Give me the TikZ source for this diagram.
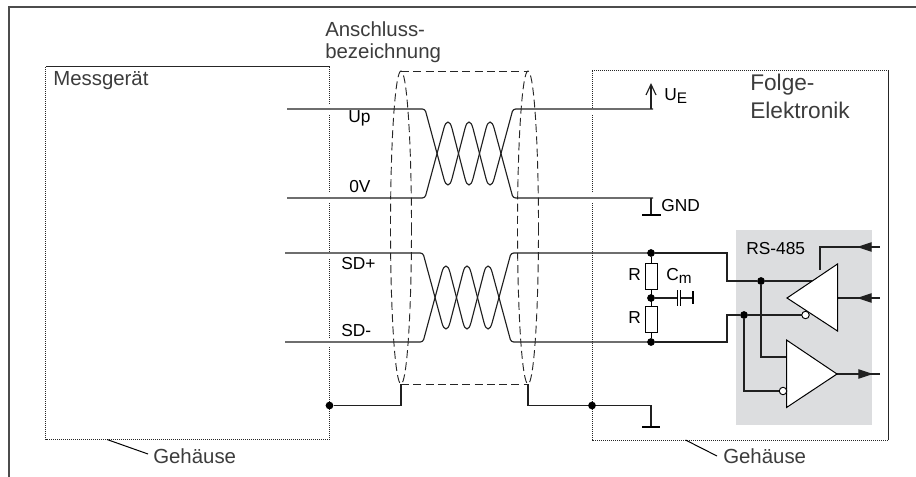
\documentclass[tikz,border=0pt]{standalone}
\usepackage{fontspec}
\setmainfont{Liberation Sans}
\usetikzlibrary{arrows.meta}
\definecolor{txtgray}{HTML}{3C3C3C}
\definecolor{panel}{HTML}{DCDDDF}
\definecolor{wiregray}{HTML}{202020}
\tikzset{
  wire/.style={draw=wiregray,line width=0.85pt},
  frameline/.style={draw=black!70,line width=0.9pt},
  dotbox/.style={draw=black!85,line width=0.75pt,dash pattern=on 0.8pt off 0.7pt},
  shield/.style={draw=black!85,line width=0.7pt,dash pattern=on 6pt off 3.2pt},
  thin part/.style={draw=black,line width=0.75pt},
  joint/.style={circle,fill=black,inner sep=0pt,minimum size=5.8pt},
  bubble/.style={circle,draw=black,fill=white,line width=0.7pt,inner sep=0pt,minimum size=5.6pt},
  bigtext/.style={text=txtgray,font=\fontsize{15.3}{16.5}\selectfont,inner sep=0pt,anchor=west,align=left},
  folgetext/.style={text=txtgray,font=\fontsize{17}{21}\selectfont,inner sep=0pt,anchor=north west,align=left},
  smalltext/.style={text=black,font=\fontsize{13}{15}\selectfont,inner sep=0pt,anchor=west},
  resistor/.style={draw=black,line width=0.75pt,fill=white},
  groundbar/.style={draw=black,line width=1.1pt},
  solid tip/.style={-{Triangle[length=11pt,width=7pt]}}
}
\newcommand{\twistpair}[2]{%
  \begin{scope}[shift={(#1,#2)}]
    \draw[wire] (287,109) [rounded corners=2pt] -- (425,109) [rounded corners=12pt] -- (448,194) -- (469,113) -- (490,194) [rounded corners=2pt] -- (513,109) -- (653,109);
    \draw[wire] (287,198) [rounded corners=2pt] -- (425,198) [rounded corners=12pt] -- (448,113) -- (469,194) -- (490,113) [rounded corners=2pt] -- (513,198) -- (653,198);
  \end{scope}}
\begin{document}
\begin{tikzpicture}[x=0.75pt,y=-0.75pt]
\useasboundingbox (0,0) rectangle (916,477);
% frame
\coordinate (fa) at (9,477); \coordinate (fb) at (9,7); \coordinate (fc) at (916,7);
\draw[frameline] (fa) -- (fb) -- (fc);
% panel
\fill[panel] (736,230) rectangle (872,424.5);
% housings
\draw[dotbox] (45.5,67) rectangle (329.5,439.5);
\draw[dotbox] (592,71) rectangle (888.5,440);
\foreach \x/\a/\b in {329.5/104/114,329.5/193/203,329.5/253/258,329.5/338/347,592/108/114,592/193/203}
  \draw[white,line width=1.6pt] (\x,\a) -- (\x,\b);
% twisted pairs
\twistpair{0}{0}
\twistpair{-2}{144}
\coordinate (ue) at (651,109);
\coordinate (uetip) at (651,83);
\draw[wire,-{Straight Barb[length=8pt,width=7.5pt]}] (ue) -- (uetip);
\coordinate (gnd) at (651,198);
\coordinate (gndb) at (651,215);
\draw[wire] (gnd) -- (gndb);
\draw[groundbar] (642,215) -- (660.5,215);
% shield
\draw[shield] (401,227.5) ellipse [x radius=10.5,y radius=156.5];
\draw[shield] (528,227.5) ellipse [x radius=10.5,y radius=156.5];
\coordinate (stl) at (401,71); \coordinate (str) at (528,71);
\coordinate (sbl) at (401,384); \coordinate (sbr) at (528,384);
\draw[shield] (stl) -- (str);
\draw[shield] (sbl) -- (sbr);
% shield connections
\node[joint] (jl) at (329.5,405.5) {};
\node[joint] (jr) at (592,405.5) {};
\coordinate (gr) at (651,405.5);
\coordinate (grb) at (651,427);
\draw[wire] (sbl) -- (401,405.5) -- (jl);
\draw[wire] (sbr) -- (528,405.5) -- (jr) -- (gr) -- (grb);
\draw[groundbar] (642,427) -- (660,427);
% terminating network
\node[joint] (j1) at (651,253) {};
\node[joint] (j2) at (651,298) {};
\node[joint] (j3) at (651,342) {};
\draw[thin part] (j1) -- (j3);
\draw[resistor] (645,263.5) rectangle (657.5,289);
\draw[resistor] (645,306) rectangle (657.5,332);
% capacitor
\coordinate (c1) at (677,298); \coordinate (c2) at (680.5,298); \coordinate (c3) at (693,298);
\draw[wire] (j2) -- (c1);
\draw[wire] (c2) -- (c3);
\draw[thin part] (677,290) -- (677,306);
\draw[thin part] (680.5,290) -- (680.5,306);
\draw[groundbar] (693,291) -- (693,304);
% driver triangles
\coordinate (t1a) at (787,298); \coordinate (t1b) at (837.5,264); \coordinate (t1c) at (837.5,331);
\coordinate (t2a) at (786.5,340); \coordinate (t2b) at (786.5,407.5); \coordinate (t2c) at (837,374);
\node[joint] (j4) at (761,281) {};
\node[joint] (j5) at (744,315) {};
\draw[wire] (j1) -- (727,253) -- (727,281) -- (j4) -- (812,281);
\draw[wire] (j3) -- (727,342) -- (727,315) -- (j5) -- (802,315);
\draw[wire] (j4) -- (761,357) -- (786.5,357);
\draw[wire] (j5) -- (744,391) -- (780,391);
\draw[wire] (t1c |- t1a) -- (880,298);
\draw[wire] (820,270) -- (820,247) -- (880,247);
\draw[wire] (t2c) -- (880,374);
\draw[thin part,fill=white] (t1a) -- (t1b) -- (t1c) -- cycle;
\draw[thin part,fill=white] (t2a) -- (t2b) -- (t2c) -- cycle;
\node[bubble] (b1) at (805.5,315) {};
\node[bubble] (b2) at (783,391) {};
% arrowheads
\coordinate (ia) at (872,247); \coordinate (ib) at (857,247);
\coordinate (ic) at (872,298); \coordinate (id) at (857,298);
\coordinate (ie) at (858,374); \coordinate (if) at (873,374);
\draw[wire,solid tip] (ia) -- (ib);
\draw[wire,solid tip] (ic) -- (id);
\draw[wire,solid tip] (ie) -- (if);
% texts
\node[bigtext] (tm) at (53,81) {Messgerät};
\node[bigtext,anchor=north west] (ta) at (325,21) {Anschluss-\\bezeichnung};
\node[folgetext] (tf) at (750,74) {Folge-\\Elektronik};
\node[bigtext] (g1) at (153,456) {Gehäuse};
\node[bigtext] (g2) at (723,456) {Gehäuse};
\coordinate (l1) at (107,439.5); \coordinate (l1b) at (148,454);
\coordinate (l2) at (685.5,440); \coordinate (l2b) at (717,456);
\draw[thin part] (l1) -- (l1b);
\draw[thin part] (l2) -- (l2b);
\node[smalltext] at (348,118) {Up};
\node[smalltext] at (349,187) {0V};
\node[smalltext] at (341,264) {SD+};
\node[smalltext] at (341,331) {SD-};
\node[smalltext] at (664,96) {U\raisebox{-2.5pt}{\fontsize{11.5}{11.5}\selectfont E}};
\node[smalltext] at (661,205.5) {GND};
\node[smalltext] at (628,275) {R};
\node[smalltext] at (628,318) {R};
\node[smalltext] at (666,276) {C\raisebox{-2.5pt}{\fontsize{11.5}{11.5}\selectfont m}};
\node[smalltext] at (746,248.5) {RS-485};
\end{tikzpicture}
\end{document}
